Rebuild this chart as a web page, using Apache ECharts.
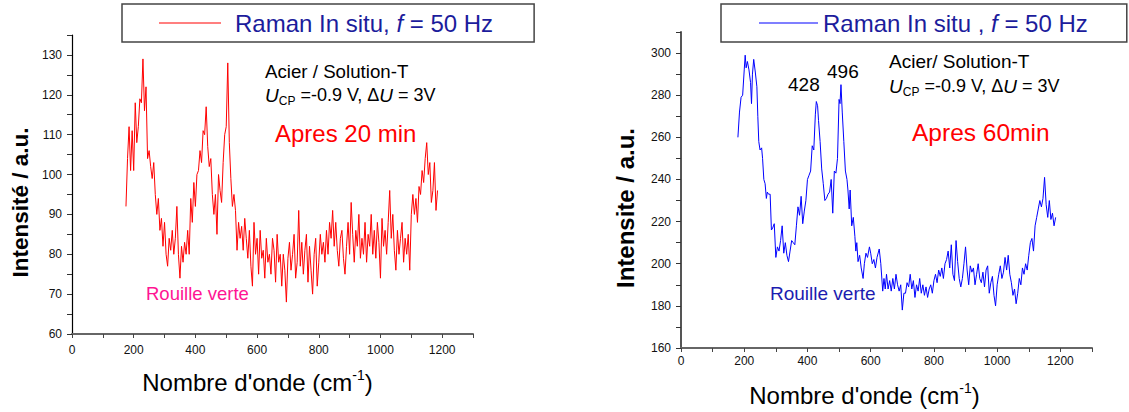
<!DOCTYPE html>
<html><head><meta charset="utf-8">
<script src="https://cdn.jsdelivr.net/npm/echarts@6/dist/echarts.min.js"></script>
<style>html,body{margin:0;padding:0;background:#fff}#c{width:1129px;height:412px}</style>
</head><body><div id="c"></div>
<script>
// ---------- Data ----------
const leftWavenumber = [
175,180,185,190,195,200,205,210,215,220,225,230,235,240,245,250,255,260,265,270,
275,280,285,290,295,300,305,310,315,320,325,330,335,340,345,350,355,360,365,370,
375,380,385,390,395,400,405,410,415,420,425,430,435,440,445,450,455,460,465,470,
475,480,485,490,495,500,505,510,515,520,525,530,535,540,545,550,555,560,565,570,
575,580,585,590,595,600,605,610,615,620,625,630,635,640,645,650,655,660,665,670,
675,680,685,690,695,700,705,710,715,720,725,730,735,740,745,750,755,760,765,770,
775,780,785,790,795,800,805,810,815,820,825,830,835,840,845,850,855,860,865,870,
875,880,885,890,895,900,905,910,915,920,925,930,935,940,945,950,955,960,965,970,
975,980,985,990,995,1000,1005,1010,1015,1020,1025,1030,1035,1040,1045,1050,1055,1060,1065,1070,
1075,1080,1085,1090,1095,1100,1105,1110,1115,1120,1125,1130,1135,1140,1145,1150,1155,1160,1165,1170,
1175,1180,1185];
const leftIntensity = [
92,104,112,101,111,101,118,108,112,119,118,129,116,122,104,106,102,99,103,95,
90,94,86,89,82,88,80,77,84,81,86,80,84,92,80,74,82,78,83,80,
86,80,94,88,98,92,100,101,106,103,111,110,117,107,102,104,95,90,95,85,
100,96,93,103,110,112,128,108,99,92,95,91,81,88,84,87,81,89,84,79,
86,77,72,88,80,84,75,86,79,81,74,84,78,80,75,84,81,73,85,78,
80,72,80,76,68,79,83,76,80,85,74,78,91,77,83,75,81,85,73,82,
76,70,80,84,72,78,85,80,83,78,86,80,88,84,91,82,88,81,77,84,
86,79,75,82,88,80,93,85,78,86,82,90,79,84,80,88,78,85,82,90,
80,86,79,88,83,74,89,82,86,80,88,96,84,90,81,76,86,80,84,88,
78,84,80,85,76,90,95,90,94,88,97,95,101,98,104,108,100,103,93,96,
103,91,96];

const rightWavenumber = [
180,185,190,195,200,203,206,210,215,220,223,226,230,235,240,243,246,250,255,258,
262,266,270,273,277,282,286,290,295,300,305,310,315,320,325,330,335,340,345,350,
355,360,365,370,375,380,385,390,395,400,405,410,415,420,425,428,432,435,440,445,
450,455,460,465,470,475,480,485,490,495,500,503,506,510,515,520,525,528,532,535,
540,545,550,553,556,560,565,570,576,580,585,590,596,600,605,610,615,620,627,632,
638,642,646,650,655,660,665,670,675,680,685,690,695,700,705,710,715,720,725,730,
735,740,745,750,755,760,765,770,775,780,785,790,795,800,805,810,815,820,825,830,
835,840,845,850,855,860,865,870,875,880,885,890,895,900,905,910,915,920,925,930,
935,940,945,950,955,960,965,970,975,980,985,990,995,1000,1005,1010,1015,1020,1025,1030,
1035,1040,1045,1050,1055,1060,1065,1070,1075,1080,1085,1090,1095,1100,1105,1110,1115,1120,1125,1130,
1135,1140,1145,1150,1155,1160,1165,1170,1175,1180,1185];
const rightIntensity = [
260,272,279,280,292,299,293,296,292,286,276,290,297,291,284,270,258,254,255,250,
240,238,231,234,233,233,216,217,219,203,208,206,211,218,205,210,204,201,206,211,
210,209,218,227,223,232,219,225,230,240,242,244,256,254,271,277,275,268,258,245,
238,230,231,233,234,240,224,244,243,250,278,276,285,272,258,244,240,235,226,235,
218,222,213,206,210,201,204,198,193,200,205,203,208,205,200,202,198,203,207,200,
187,193,188,195,188,192,187,193,188,195,190,187,190,178,186,186,191,189,195,188,
192,184,190,187,193,186,190,185,189,184,188,190,186,192,195,191,197,194,198,193,
200,202,206,198,209,195,192,211,201,193,189,193,200,208,197,190,199,196,198,190,
195,200,193,191,196,189,197,199,186,191,194,185,180,190,195,199,193,196,203,197,
204,195,191,185,188,181,186,193,190,198,195,200,197,204,210,212,206,218,222,226,
230,227,231,241,228,222,230,221,224,218,222];

const xTickLabels = [0, 200, 400, 600, 800, 1000, 1200];
const leftYTickLabels = [60, 70, 80, 90, 100, 110, 120, 130];
const rightYTickLabels = [160, 180, 200, 220, 240, 260, 280, 300];

const leftName = 'Raman In situ, f = 50 Hz';
const rightName = 'Raman In situ , f = 50 Hz';

// ---------- Chart ----------
const FONT = '"Liberation Sans", Arial, Helvetica, sans-serif';
const chart = echarts.init(document.getElementById('c'), null, {renderer: 'svg'});

function xAxisCfg(grid, gap, shift, labelMargin) {
  return {
    gridIndex: grid, type: 'value', min: 0, max: 1300, interval: 100,
    axisLine: {onZero: false, lineStyle: {color: '#666', width: 2}},
    axisTick: {length: 4, lineStyle: {color: '#444', width: 1}},
    axisLabel: {fontFamily: FONT, fontSize: 12, color: '#111', margin: labelMargin,
      formatter: v => xTickLabels.includes(v) ? String(v) : ''},
    splitLine: {show: false},
    name: "{n|Nombre d'onde (cm}{s|-1}{n|)}",
    nameLocation: 'middle', nameGap: gap,
    nameTextStyle: {fontFamily: FONT, fontSize: 24, color: '#000', padding: [0, shift, 0, 0],
      rich: {n: {fontSize: 24, lineHeight: 28, fontFamily: FONT, color: '#000'},
             s: {fontSize: 14, lineHeight: 28, verticalAlign: 'top', fontFamily: FONT, color: '#000', padding: [0, 0, 12, 0]}}}
  };
}
function yAxisCfg(grid, min, max, ticks, name, gap, shift, lineColor, lineWidth, nameSize) {
  return {
    gridIndex: grid, type: 'value', min: min, max: max, interval: (ticks[1] - ticks[0]) / 2,
    axisLine: {onZero: false, lineStyle: {color: lineColor, width: lineWidth}},
    axisTick: {length: 5, lineStyle: {color: '#333', width: 1}},
    axisLabel: {fontFamily: FONT, fontSize: 12, color: '#111', margin: 10,
      formatter: v => ticks.includes(v) ? String(v) : ''},
    splitLine: {show: false},
    name: name, nameLocation: 'middle', nameGap: gap,
    nameTextStyle: {fontFamily: FONT, fontSize: nameSize, fontWeight: 'bold', color: '#000', padding: [0, shift, 0, 0]}
  };
}

const LEG_COLOR = '#1c1c9c';
const legendRich = {
  n0: {fontFamily: FONT, fontSize: 24, color: LEG_COLOR, lineHeight: 26, padding: [0, 0, 0, 9]},
  r0: {fontFamily: FONT, fontSize: 24, color: LEG_COLOR, lineHeight: 26},
  n: {fontFamily: FONT, fontSize: 24, color: LEG_COLOR, lineHeight: 26},
  i: {fontFamily: FONT, fontSize: 24, color: LEG_COLOR, fontStyle: 'italic', lineHeight: 26}
};

function ucpRich(base) {
  return {
    u: {fontFamily: FONT, fontSize: base + 1, fontStyle: 'italic', lineHeight: 24, fill: '#000', color: '#000'},
    s: {fontFamily: FONT, fontSize: Math.round(base * 0.66), lineHeight: 12, verticalAlign: 'bottom', fill: '#000', color: '#000'},
    n: {fontFamily: FONT, fontSize: base, lineHeight: 24, fill: '#000', color: '#000'}
  };
}
const ucpText = '{u|U}{s|CP}{n| =-0.9 V, Δ}{u|U}{n| = 3V}';

function txt(x, y, text, size, color) {
  return {type: 'text', x: x, y: y, silent: true,
    style: {text: text, fontFamily: FONT, fontSize: size, fill: color, verticalAlign: 'middle', align: 'left'}};
}
function ucp(x, y, base) {
  return {type: 'text', x: x, y: y, silent: true,
    style: {text: ucpText, rich: ucpRich(base), fontFamily: FONT, fontSize: base, fill: '#000', verticalAlign: 'middle', align: 'left'}};
}

const option = {
  backgroundColor: '#fff',
  animation: false,
  grid: [
    {left: 72, top: 35, width: 401, height: 299, containLabel: false},
    {left: 681, top: 32, width: 411, height: 316.5, containLabel: false}
  ],
  xAxis: [xAxisCfg(0, 34, 30, 10), xAxisCfg(1, 33, 44, 7)],
  yAxis: [
    yAxisCfg(0, 60, 135, leftYTickLabels, 'Intensité / a.u.', 40, 36, '#000', 1.2, 22.5),
    yAxisCfg(1, 160, 310, rightYTickLabels, 'Intensite / a.u.', 44, 36, '#555', 2, 24)
  ],
  legend: [
    {data: [leftName], left: 122, top: 4, icon: 'rect', itemWidth: 62, itemHeight: 1.2,
     padding: [7, 41, 7, 37], borderColor: '#444', borderWidth: 1.5, backgroundColor: '#fff',
     formatter: () => '{n0|Raman In situ, }{i|f}{n| = 50 Hz}',
     textStyle: {fontFamily: FONT, fontSize: 24, color: LEG_COLOR, rich: legendRich}},
    {data: [rightName], left: 721, top: 4, icon: 'rect', itemWidth: 59, itemHeight: 1.2,
     padding: [7, 39, 7, 38], borderColor: '#444', borderWidth: 1.5, backgroundColor: '#fff',
     formatter: () => '{r0|Raman In situ , }{i|f}{n| = 50 Hz}',
     textStyle: {fontFamily: FONT, fontSize: 24, color: LEG_COLOR, rich: legendRich}}
  ],
  series: [
    {name: leftName, type: 'line', xAxisIndex: 0, yAxisIndex: 0, symbol: 'none',
     lineStyle: {color: '#ff0000', width: 1}, itemStyle: {color: '#ff0000'},
     data: leftWavenumber.map((x, i) => [x, leftIntensity[i]])},
    {name: rightName, type: 'line', xAxisIndex: 1, yAxisIndex: 1, symbol: 'none',
     lineStyle: {color: '#0000ff', width: 1}, itemStyle: {color: '#0000ff'},
     data: rightWavenumber.map((x, i) => [x, rightIntensity[i]])}
  ],
  graphic: [
    txt(265, 71, 'Acier / Solution-T', 18.7, '#000'),
    ucp(265, 95, 18),
    txt(275, 133, 'Apres 20 min', 24, '#ff0000'),
    txt(146, 293, 'Rouille verte', 18.5, '#ff1493'),
    txt(788, 84, '428', 19, '#000'),
    txt(827, 71, '496', 19, '#000'),
    txt(889, 61, 'Acier/ Solution-T', 19, '#000'),
    ucp(889, 86, 18),
    txt(912, 132, 'Apres 60min', 24.5, '#ff0000'),
    txt(770, 293, 'Rouille verte', 19, '#1c1cb0')
  ]
};
chart.setOption(option);
</script>
</body></html>
